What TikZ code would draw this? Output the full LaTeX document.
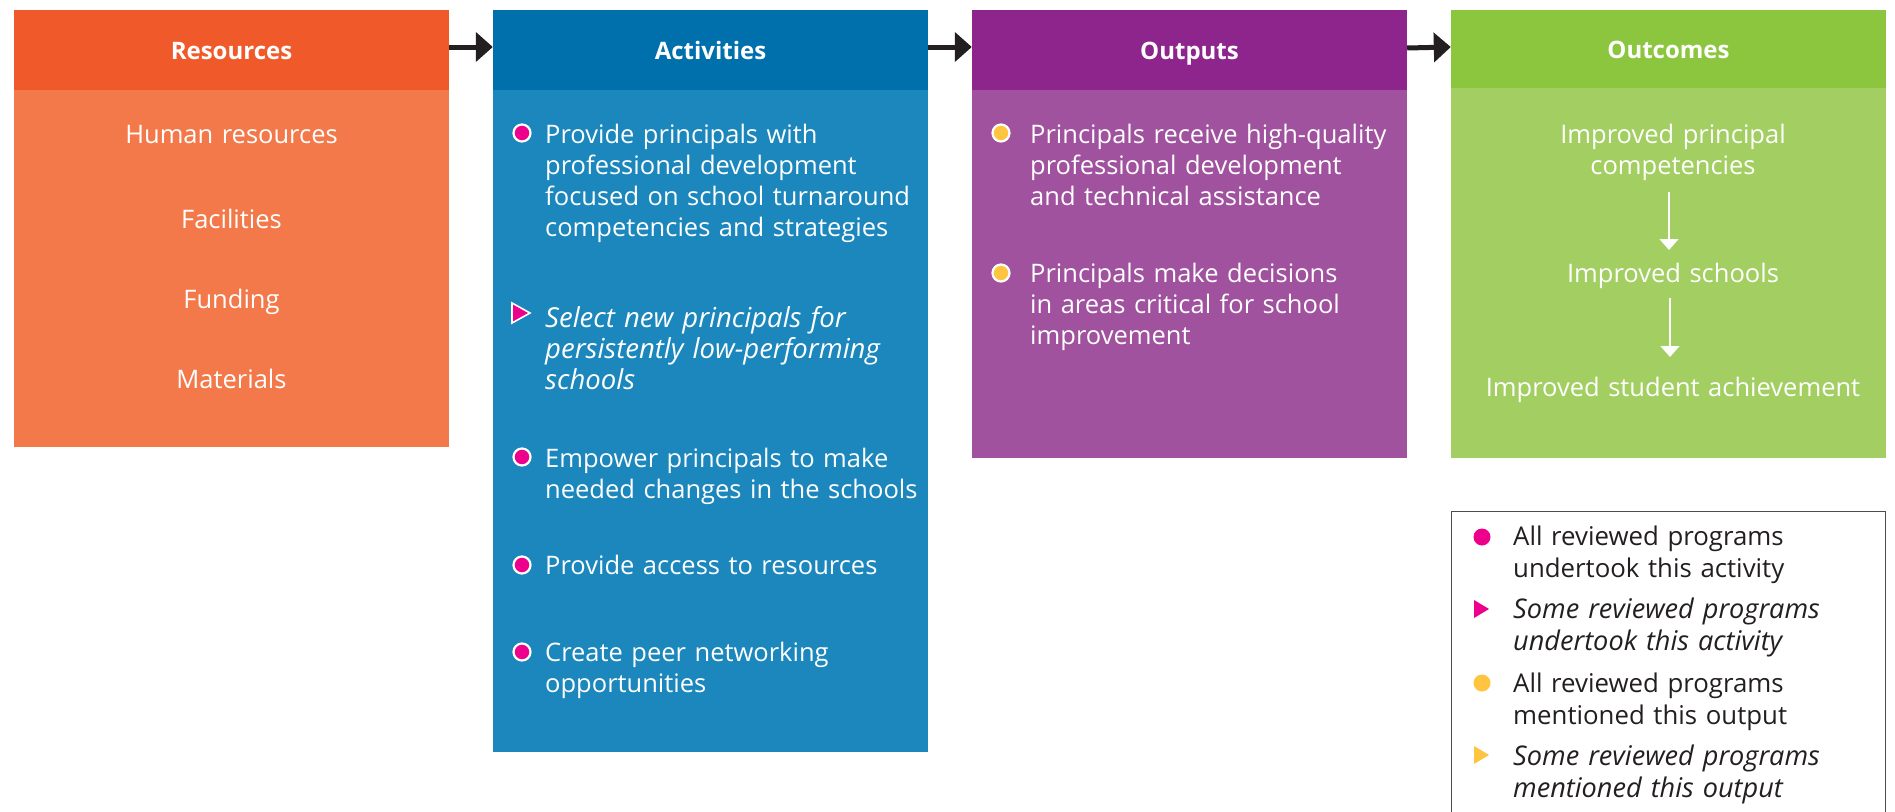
\documentclass[tikz,border=0pt]{standalone}
\usepackage{fontspec}
\setmainfont{Open Sans}
\usetikzlibrary{arrows.meta}
\definecolor{resH}{RGB}{240,90,42}
\definecolor{resB}{RGB}{243,121,74}
\definecolor{actH}{RGB}{0,112,173}
\definecolor{actB}{RGB}{27,135,188}
\definecolor{outH}{RGB}{142,37,141}
\definecolor{outB}{RGB}{160,82,158}
\definecolor{ocH}{RGB}{140,198,63}
\definecolor{ocB}{RGB}{163,207,98}
\definecolor{mkpink}{RGB}{236,0,140}
\definecolor{mkyel}{RGB}{255,197,64}
\definecolor{ink}{RGB}{35,31,32}
\newcommand{\bodyfont}{\fontsize{25.5}{31}\selectfont}
\newcommand{\bodyital}{\fontsize{27.5}{31}\selectfont\itshape}
\newcommand{\legfont}{\fontsize{25.8}{32}\selectfont}
\newcommand{\legital}{\fontsize{27.1}{32}\selectfont\itshape}
\tikzset{
  hdr/.style={rectangle, inner sep=0, minimum width=435, minimum height=80, text=white,
    font=\fontsize{24}{31}\selectfont\bfseries, text height=18, text depth=0},
  bodybox/.style={rectangle, inner sep=0, minimum width=435, anchor=north west},
  ctext/.style={inner sep=0, anchor=base, text=white, font=\bodyfont, align=center, text width=420},
  itext/.style={inner sep=0, anchor=base west, text=white, font=\bodyfont, align=left, text width=380},
  ltext/.style={inner sep=0, anchor=base west, text=ink, font=\legfont, align=left, text width=360},
  dotw/.style={circle, inner sep=0, minimum size=17, draw=white, line width=2.2},
  dotl/.style={circle, inner sep=0, minimum size=17},
  bigarrow/.style={draw=ink, line width=5, -{Triangle[length=17,width=29]}},
  warrow/.style={draw=white, line width=1.5, -{Triangle[length=11,width=19]}},
}
\begin{document}
\begin{tikzpicture}[x=1pt,y=-1pt]
\useasboundingbox (0,0) rectangle (1895,811);
\fill[white] (0,0) rectangle (1895,811);

% boxes
\node[bodybox, fill=resB, minimum height=357] (resbody) at (14,90) {};
\node[hdr, fill=resH] (reshead) at (231.5,50) {Resources};
\node[bodybox, fill=actB, minimum height=662] (actbody) at (493,90) {};
\node[hdr, fill=actH] (acthead) at (710.5,50) {Activities};
\node[bodybox, fill=outB, minimum height=368] (outbody) at (972,90) {};
\node[hdr, fill=outH] (outhead) at (1189.5,50) {Outputs};
\node[bodybox, fill=ocB, minimum height=370] (ocbody) at (1451,88) {};
\node[hdr, fill=ocH, minimum height=78] (ochead) at (1668.5,49) {Outcomes};

% arrows between stages
\draw[bigarrow] ([yshift=3]reshead.east) -- ([yshift=3]acthead.west);
\draw[bigarrow] ([yshift=3]acthead.east) -- ([yshift=3]outhead.west);
\draw[bigarrow] ([yshift=2]outhead.east) -- ([yshift=2]ochead.west);

% resources
\node[ctext] (r1) at (231.5,143) {Human resources};
\node[ctext] (r2) at (231.5,228) {Facilities};
\node[ctext] (r3) at (231.5,308) {Funding};
\node[ctext] (r4) at (231.5,388) {Materials};

% activities
\node[dotw, fill=mkpink] (a1m) at (522,133) {};
\node[itext] (a1) at (545,143) {Provide principals with\\professional development\\focused on school turnaround\\competencies and strategies};
\coordinate (a2m) at (520,313);
\fill[mkpink, draw=white, line width=1.6, line join=miter] ([xshift=-8,yshift=10]a2m) -- ([xshift=10]a2m) -- ([xshift=-8,yshift=-10]a2m) -- cycle;
\node[itext, font=\bodyital] (a2) at (545,327) {Select new principals for\\persistently low-performing\\schools};
\node[dotw, fill=mkpink] (a3m) at (522,457) {};
\node[itext] (a3) at (545,467) {Empower principals to make\\needed changes in the schools};
\node[dotw, fill=mkpink] (a4m) at (522,565) {};
\node[itext] (a4) at (545,574) {Provide access to resources};
\node[dotw, fill=mkpink] (a5m) at (522,652) {};
\node[itext] (a5) at (545,661) {Create peer networking\\opportunities};

% outputs
\node[dotw, fill=mkyel] (o1m) at (1001,133) {};
\node[itext] (o1) at (1030,143) {Principals receive high-quality\\professional development\\and technical assistance};
\node[dotw, fill=mkyel] (o2m) at (1001,273) {};
\node[itext] (o2) at (1030,282) {Principals make decisions\\in areas critical for school\\improvement};

% outcomes
\node[ctext] (c1) at (1673,143) {Improved principal\\competencies};
\node[ctext] (c2) at (1673,282) {Improved schools};
\node[ctext] (c3) at (1673,396) {Improved student achievement};
\coordinate (c1b) at (1669,192);
\coordinate (c2t) at (1669,250);
\coordinate (c2b) at (1670,298);
\coordinate (c3t) at (1670,357);
\draw[warrow] (c1b) -- (c2t);
\draw[warrow] (c2b) -- (c3t);

% legend
\draw[ink!80, line width=1] (1451,830) -- (1451,511) -- (1885,511) -- (1885,830);
\node[dotl, fill=mkpink] (l1m) at (1482,537) {};
\node[ltext] (l1) at (1513,545) {All reviewed programs\\undertook this activity};
\coordinate (l2m) at (1482,609);
\fill[mkpink] ([xshift=-8,yshift=9]l2m) -- ([xshift=7]l2m) -- ([xshift=-8,yshift=-9]l2m) -- cycle;
\node[ltext, font=\legital] (l2) at (1513,618) {Some reviewed programs\\undertook this activity};
\node[dotl, fill=mkyel] (l3m) at (1482,683) {};
\node[ltext] (l3) at (1513,692) {All reviewed programs\\mentioned this output};
\coordinate (l4m) at (1482,755);
\fill[mkyel] ([xshift=-8,yshift=9]l4m) -- ([xshift=7]l4m) -- ([xshift=-8,yshift=-9]l4m) -- cycle;
\node[ltext, font=\legital] (l4) at (1513,765) {Some reviewed programs\\mentioned this output};
\end{tikzpicture}
\end{document}
